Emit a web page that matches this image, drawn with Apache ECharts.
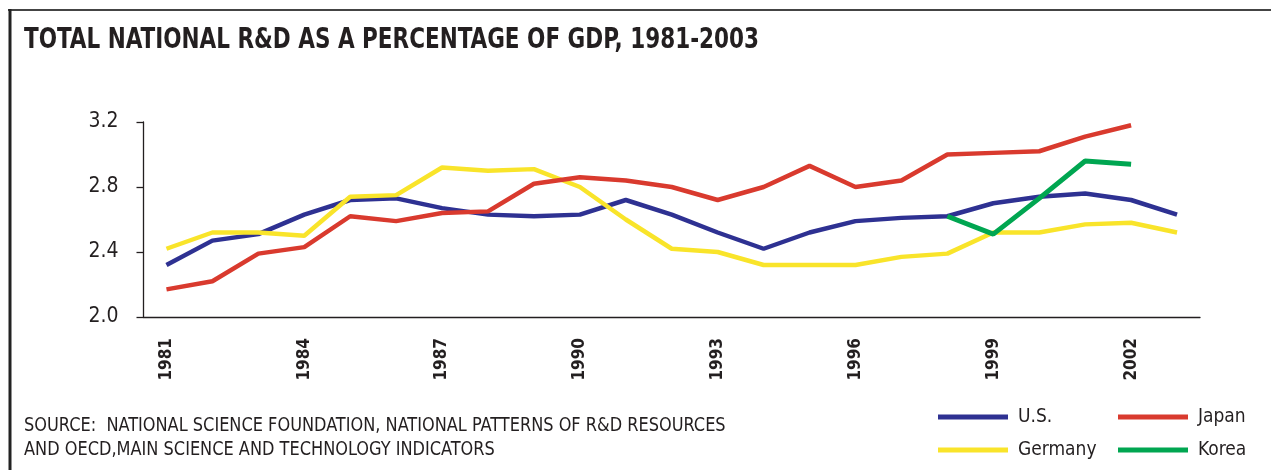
<!DOCTYPE html>
<html>
<head>
<meta charset="utf-8">
<script src="https://cdn.jsdelivr.net/npm/echarts@6/dist/echarts.min.js"></script>
<style>
html,body{margin:0;padding:0;background:#fff;}
#chart{width:1271px;height:470px;}
</style>
</head>
<body>
<div id="chart"></div>
<script>
const years = ['1981','1982','1983','1984','1985','1986','1987','1988','1989','1990','1991','1992','1993','1994','1995','1996','1997','1998','1999','2000','2001','2002','2003'];
const usValues      = [2.32,2.47,2.51,2.63,2.72,2.73,2.67,2.63,2.62,2.63,2.72,2.63,2.52,2.42,2.52,2.59,2.61,2.62,2.70,2.74,2.76,2.72,2.63];
const germanyValues = [2.42,2.52,2.52,2.50,2.74,2.75,2.92,2.90,2.91,2.80,2.60,2.42,2.40,2.32,2.32,2.32,2.37,2.39,2.52,2.52,2.57,2.58,2.52];
const japanValues   = [2.17,2.22,2.39,2.43,2.62,2.59,2.64,2.65,2.82,2.86,2.84,2.80,2.72,2.80,2.93,2.80,2.84,3.00,3.01,3.02,3.11,3.18,null];
const koreaValues   = [null,null,null,null,null,null,null,null,null,null,null,null,null,null,null,null,null,2.62,2.51,2.73,2.96,2.94,null];
const yTicks = [2.0, 2.4, 2.8, 3.2];

const FONT = "'Liberation Sans Narrow','DejaVu Sans Condensed','Arial Narrow',sans-serif";
const TXT = '#231f20';

const chart = echarts.init(document.getElementById('chart'));
chart.setOption({
  animation: false,
  backgroundColor: '#fff',
  grid: {left: 143.5, right: 71, top: 122, bottom: 153},
  xAxis: {
    type: 'category', data: years, boundaryGap: true,
    axisLine: {lineStyle: {color: '#231f20', width: 1.3}},
    axisTick: {interval: 0, length: 6, lineStyle: {color: '#231f20', width: 1.3}},
    axisLabel: {interval: 2, rotate: 90, margin: 21, color: TXT, fontFamily: FONT, fontWeight: 'bold', fontSize: 17}
  },
  yAxis: {
    type: 'value', min: yTicks[0], max: yTicks[yTicks.length-1], interval: 0.4,
    axisLine: {show: true, lineStyle: {color: '#231f20', width: 1.3}},
    axisTick: {show: true, length: 7, lineStyle: {color: '#231f20', width: 1.3}},
    splitLine: {show: false},
    axisLabel: {margin: 25, color: TXT, fontFamily: FONT, fontSize: 21, formatter: v => v.toFixed(1)}
  },
  legend: [
    {data: ['U.S.','Germany'], orient: 'vertical', left: 938, top: 406, padding: 0, itemWidth: 70, itemHeight: 5, itemGap: 11, icon: 'rect',
     textStyle: {color: TXT, fontFamily: FONT, fontSize: 19, lineHeight: 22, padding: [0,0,0,5]}},
    {data: ['Japan','Korea'], orient: 'vertical', left: 1118, top: 406, padding: 0, itemWidth: 70, itemHeight: 5, itemGap: 11, icon: 'rect',
     textStyle: {color: TXT, fontFamily: FONT, fontSize: 19, lineHeight: 22, padding: [0,0,0,5]}}
  ],
  series: [
    {name: 'U.S.', type: 'line', data: usValues, showSymbol: false, symbol: 'none', color: '#2e3192', lineStyle: {width: 4.5, color: '#2e3192'}, z: 2},
    {name: 'Germany', type: 'line', data: germanyValues, showSymbol: false, symbol: 'none', color: '#f9e42a', lineStyle: {width: 4.5, color: '#f9e42a'}, z: 3},
    {name: 'Japan', type: 'line', data: japanValues, showSymbol: false, symbol: 'none', color: '#d93a2e', lineStyle: {width: 4.5, color: '#d93a2e'}, z: 4},
    {name: 'Korea', type: 'line', data: koreaValues, showSymbol: false, symbol: 'none', color: '#00a651', lineStyle: {width: 5, color: '#00a651'}, z: 5}
  ],
  graphic: [
    {type: 'line', shape: {x1: 8, y1: 10, x2: 1271, y2: 10}, style: {stroke: '#444', lineWidth: 2}},
    {type: 'line', shape: {x1: 10, y1: 9, x2: 10, y2: 470}, style: {stroke: '#222', lineWidth: 3}},
    {type: 'text', x: 24, y: 27, scaleX: 0.855, style: {text: 'TOTAL NATIONAL R&D AS A PERCENTAGE OF GDP, 1981-2003', fill: '#231f20', font: "bold 28px " + FONT}},
    {type: 'text', x: 24, y: 414, scaleX: 0.946, style: {text: 'SOURCE:  NATIONAL SCIENCE FOUNDATION, NATIONAL PATTERNS OF R&D RESOURCES\nAND OECD,MAIN SCIENCE AND TECHNOLOGY INDICATORS', fill: '#231f20', font: "19px " + FONT, lineHeight: 24}}
  ]
});
</script>
</body>
</html>
